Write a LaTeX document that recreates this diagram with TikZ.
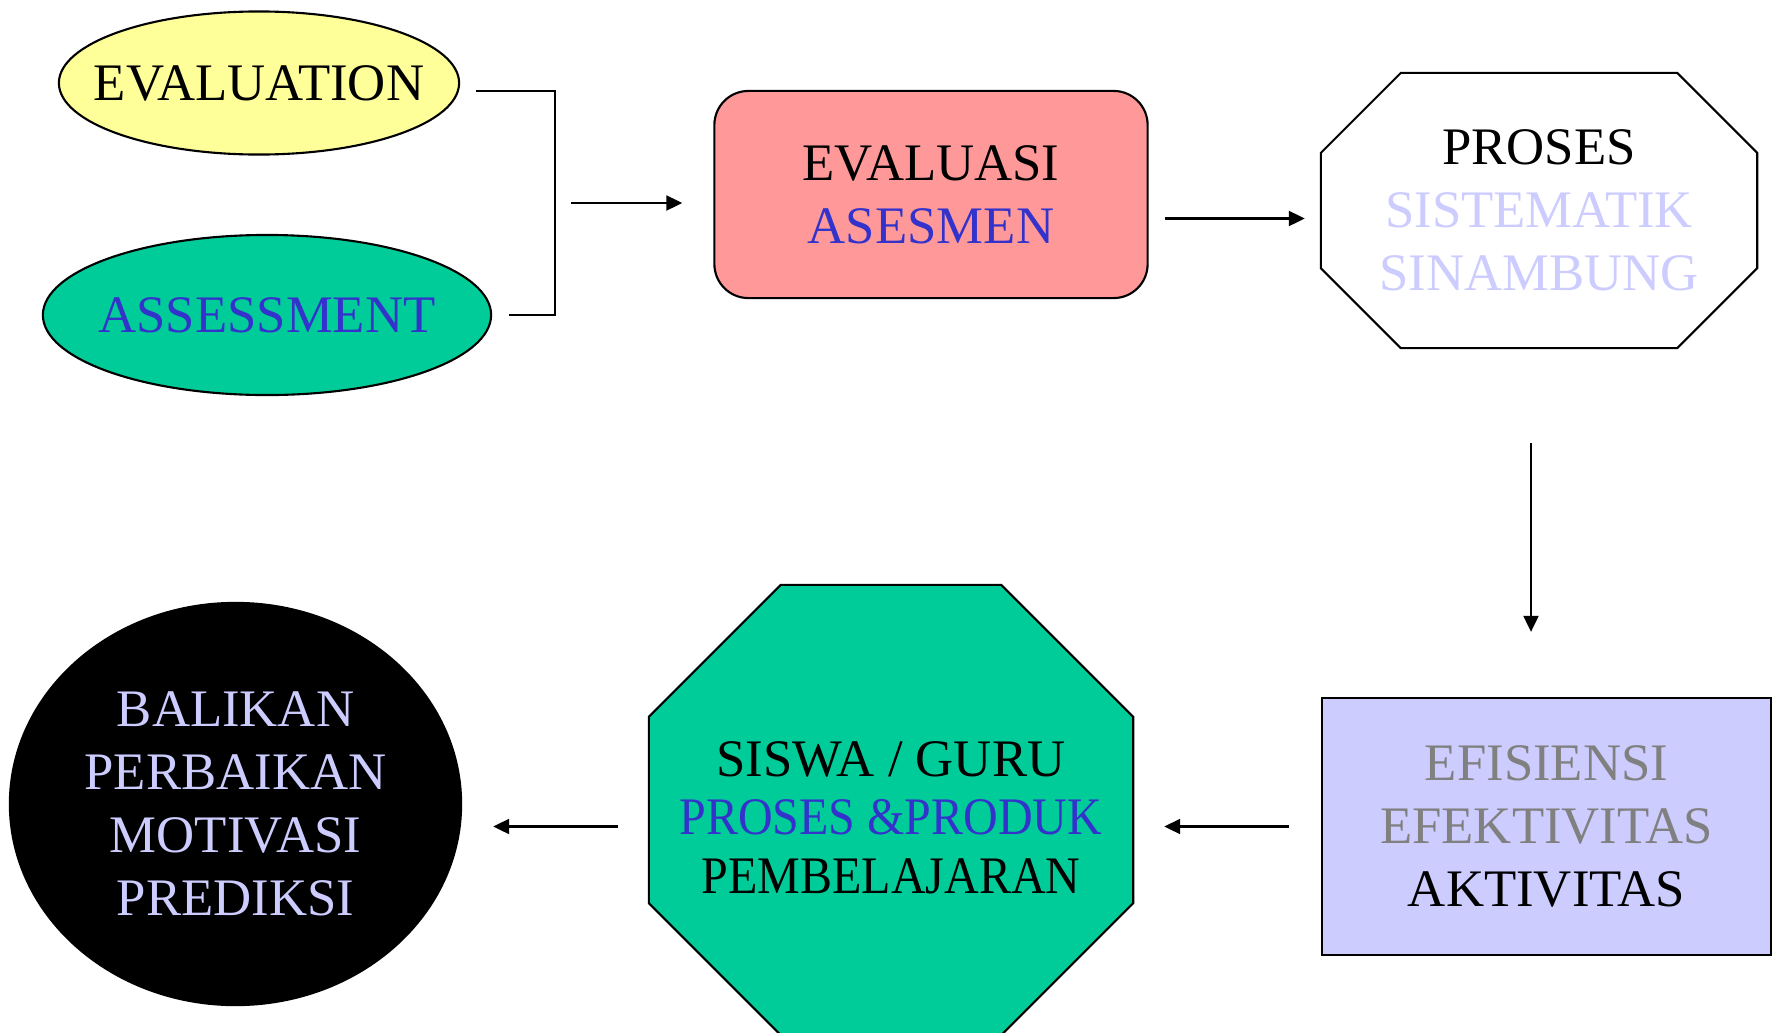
\documentclass[tikz,border=0pt]{standalone}
\usepackage{fontspec}
\setmainfont{Liberation Serif}
\newfontfamily\semifont{Liberation Serif}[FakeStretch=0.91]
\usepackage{xcolor}
\usepackage{tikz}
\usetikzlibrary{shapes.geometric, arrows.meta, positioning, calc, backgrounds}

\definecolor{lemon}{HTML}{FFFF99}
\definecolor{mint}{HTML}{00CC99}
\definecolor{salmon}{HTML}{FF9999}
\definecolor{lilac}{HTML}{CCCCFF}
\definecolor{ink}{HTML}{3333CC}
\definecolor{ash}{HTML}{808080}

% octagon round a node: name, cut, fill
\newcommand{\octagon}[3]{%
  \draw[line, fill=#3] ([xshift=#2]#1.north west) -- ([xshift=-#2]#1.north east) -- ([yshift=-#2]#1.north east) -- ([yshift=#2]#1.south east) -- ([xshift=-#2]#1.south east) -- ([xshift=#2]#1.south west) -- ([yshift=#2]#1.south west) -- ([yshift=-#2]#1.north west) -- cycle;}

\begin{document}
\begin{tikzpicture}[
    x=0.01cm, y=-0.01cm,
    every node/.style={line width=0.6pt, align=center, font=\fontsize{15}{17.9}\selectfont},
    oval/.style={draw, ellipse, inner xsep=-0.5cm, inner ysep=0pt},
    arrow/.style={->, line width=0.6pt, >={Triangle[length=1.6mm, width=1.5mm]}},
    line/.style={line width=0.6pt}
]
    \useasboundingbox (0,0) rectangle (1778,1033);

    % Terms
    \node[oval, fill=lemon, minimum width=4cm, minimum height=1.43cm] (evaluation) at (259,83) {EVALUATION};
    \node[oval, fill=mint, minimum width=4.48cm, minimum height=1.6cm] (assessment) at (267,315) {\color{ink}ASSESSMENT};

    % Meaning
    \node[draw, rounded corners=0.34cm, fill=salmon, minimum width=4.33cm, minimum height=2.07cm] (evaluasi) at (931,194.5) {EVALUASI\\{\color{ink}ASESMEN}};

    % Process
    \node[minimum width=4.34cm, minimum height=2.73cm] (proses) at (1539,210.5) {PROSES\\{\color{lilac}SISTEMATIK}\\{\color{lilac}SINAMBUNG}};

    % Aims
    \node[draw, fill=lilac, minimum width=4.49cm, minimum height=2.57cm] (efisiensi) at (1546.5,826.5) {{\color{ash}EFISIENSI}\\{\color{ash}EFEKTIVITAS}\\AKTIVITAS};

    % Objects
    \node[minimum width=4.82cm, minimum height=4.48cm, font=\fontsize{15}{16.6}\selectfont] (siswa) at (891,810) {\rule{0pt}{0.5cm}SISWA / GURU\\{\semifont\color{ink}PROSES \&PRODUK}\\\semifont PEMBELAJARAN};

    % Use
    \node[oval, fill=black, minimum width=4.51cm, minimum height=4.02cm] (balikan) at (235.5,804) {\color{lilac}BALIKAN\\\color{lilac}PERBAIKAN\\\color{lilac}MOTIVASI\\\color{lilac}PREDIKSI};

    \begin{scope}[on background layer]
        \octagon{proses}{0.8cm}{white}
        \octagon{siswa}{1.32cm}{mint}
    \end{scope}

    % Links
    \coordinate (join) at (555,203);
    \draw[line] ([shift={(16,8)}]evaluation.east) -| (join) |- ([shift={(17,0)}]assessment.east);
    \draw[arrow, shorten <=0.16cm, shorten >=0.31cm] (join) -- (join -| evaluasi.west);
    \draw[arrow, shorten <=0.16cm, shorten >=0.16cm] ([shift={(0,24)}]evaluasi.east) -- ([shift={(0,24)}]evaluasi.east -| proses.west);
    \draw[arrow, shorten <=0.95cm, shorten >=0.65cm] ([shift={(-8,0)}]proses.south) -- ([shift={(-8,0)}]proses.south |- efisiensi.north);
    \draw[arrow, shorten <=0.32cm, shorten >=0.31cm] (efisiensi.west) -- (efisiensi.west -| siswa.east);
    \draw[arrow, shorten <=0.31cm, shorten >=0.31cm] (siswa.west |- efisiensi.west) -- (balikan.east |- efisiensi.west);
\end{tikzpicture}
\end{document}
